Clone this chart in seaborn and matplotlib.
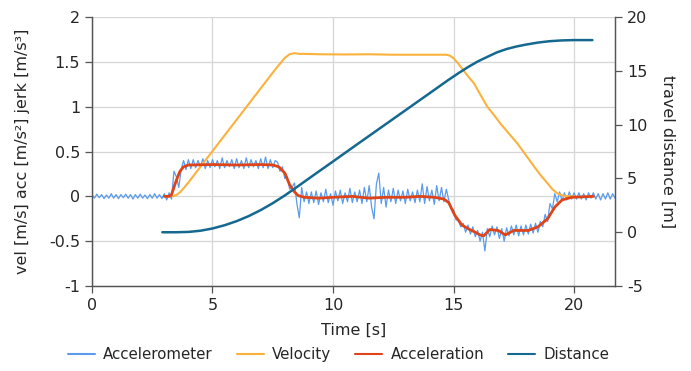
import numpy as np
import pandas as pd
import seaborn as sns
import matplotlib.pyplot as plt
from matplotlib.ticker import FuncFormatter
from matplotlib.lines import Line2D

# accelerometer samples, every 0.1 s from 0.0 to 21.7
accel_raw = [0.02, -0.02, 0.025, -0.015, 0.02, -0.025, 0.015, -0.02, 0.03, -0.02,
             0.02, -0.025, 0.02, -0.015, 0.025, -0.02, 0.02, -0.03, 0.02, -0.02,
             0.025, -0.02, 0.015, -0.025, 0.02, -0.02, 0.03, -0.02, 0.02, -0.025,
             0.03, -0.04, 0.04, -0.03,
             0.28, 0.22, 0.10, 0.30, 0.40, 0.30, 0.41,
             0.31, 0.41, 0.32, 0.40, 0.33, 0.42, 0.31, 0.40, 0.32, 0.41,
             0.33, 0.40, 0.31, 0.43, 0.32, 0.40, 0.33, 0.41, 0.31, 0.42,
             0.32, 0.40, 0.31, 0.43, 0.32, 0.41, 0.33, 0.40, 0.31, 0.42,
             0.32, 0.44, 0.31, 0.41, 0.32, 0.40,
             0.38, 0.28, 0.33, 0.20, 0.22, 0.08, 0.10, 0.15, -0.08, -0.24,
             0.10, -0.06, 0.05, -0.08,
             0.05, -0.07, 0.06, -0.09, 0.04, -0.06, 0.08, -0.07, 0.03, -0.10,
             0.06, -0.05, 0.07, -0.08, 0.04, -0.06, 0.09, -0.07, 0.05,
             -0.06, 0.07, -0.08, 0.10, -0.06, 0.12, -0.12, -0.25, 0.14, 0.26,
             -0.08, 0.10, -0.12, 0.07, -0.06, 0.09, -0.08, 0.07, -0.05, 0.06,
             -0.08, 0.08, -0.05, 0.05, -0.07, 0.07, -0.06, 0.14, -0.08, 0.11,
             -0.05, 0.07, -0.09, 0.12, -0.05, 0.10, -0.06, 0.08,
             -0.04, -0.14, -0.15, -0.26, -0.27, -0.34, -0.30, -0.40, -0.32, -0.42,
             -0.34, -0.45, -0.38, -0.50, -0.40, -0.61, -0.36, -0.45, -0.33, -0.43,
             -0.34, -0.47, -0.36, -0.50, -0.35, -0.44, -0.33, -0.43, -0.32, -0.44,
             -0.33, -0.43, -0.32, -0.42, -0.31, -0.41, -0.30, -0.40, -0.28, -0.34,
             -0.20, -0.28, -0.08, -0.14, 0.03, -0.06, 0.05, -0.05, 0.04, -0.04,
             0.05, -0.03, 0.04,
             -0.03, 0.04, -0.03, 0.03, -0.04, 0.04, -0.02, 0.04, -0.03, 0.03,
             -0.04, 0.03, -0.03, 0.04, -0.03, 0.03, -0.02]
accel_t = np.round(np.arange(len(accel_raw)) * 0.1, 1)

vel_t = [3.35, 3.5, 3.65, 3.8, 4.0, 4.5, 5.0, 5.5, 6.0, 6.5, 7.0, 7.5, 7.8, 8.0,
         8.2, 8.4, 8.6, 9.0, 9.5, 10.5, 11.5, 12.5, 13.5, 14.5, 14.7, 14.85, 15.0,
         15.2, 15.4, 15.6, 15.85, 16.1, 16.4, 16.7, 16.95, 17.3, 17.65, 18.0,
         18.35, 18.6, 18.9, 19.1, 19.3, 19.5, 19.7, 20.0]
vel_v = [0.0, 0.015, 0.045, 0.09, 0.155, 0.33, 0.505, 0.68, 0.855, 1.03, 1.205,
         1.38, 1.48, 1.545, 1.585, 1.597, 1.59, 1.588, 1.585, 1.583, 1.585, 1.58,
         1.58, 1.58, 1.58, 1.57, 1.54, 1.48, 1.41, 1.34, 1.26, 1.14, 1.0, 0.9,
         0.81, 0.7, 0.59, 0.46, 0.33, 0.24, 0.145, 0.08, 0.035, 0.012, 0.003, 0.0]

acc_t = [3.0, 3.2, 3.3, 3.5, 3.65, 3.8, 4.0, 5.0, 6.0, 7.0, 7.5, 7.75, 8.0, 8.2,
         8.4, 8.55, 8.8, 9.4, 10.0, 10.8, 11.5, 12.2, 13.0, 13.6, 14.2, 14.6, 14.8,
         15.05, 15.35, 15.6, 15.9, 16.1, 16.25, 16.5, 16.85, 17.15, 17.5, 18.1,
         18.5, 18.9, 19.2, 19.5, 19.9, 20.8]
acc_v = [0.0, 0.0, 0.02, 0.18, 0.28, 0.33, 0.35, 0.355, 0.35, 0.355, 0.35, 0.33,
         0.26, 0.13, 0.05, 0.01, -0.01, -0.02, -0.01, 0.0, -0.02, -0.01, -0.01, 0.0,
         -0.01, -0.03, -0.07, -0.21, -0.32, -0.36, -0.40, -0.43, -0.44, -0.37,
         -0.38, -0.43, -0.38, -0.38, -0.34, -0.25, -0.12, -0.04, -0.01, 0.0]

dist_t = [2.92, 3.5, 4.0, 4.5, 5.0, 5.5, 6.0, 6.5, 7.0, 7.5, 8.0, 8.5, 9.0, 10.0,
          11.0, 12.0, 13.0, 14.0, 14.75, 15.2, 15.6, 16.0, 16.4, 16.8, 17.2, 17.6,
          18.0, 18.5, 19.0, 19.5, 20.0, 20.76]
dist_v = [0.0, 0.0, 0.03, 0.14, 0.35, 0.65, 1.03, 1.5, 2.06, 2.7, 3.42, 4.2, 5.0,
          6.58, 8.17, 9.75, 11.33, 12.91, 14.1, 14.78, 15.35, 15.87, 16.3, 16.72,
          17.03, 17.26, 17.44, 17.63, 17.76, 17.83, 17.86, 17.86]

c_raw = "#5a9bf0"
c_vel = "#fab23c"
c_acc = "#df4418"
c_dist = "#15688f"

sns.set_style("white")
plt.rcParams['font.family'] = ['DejaVu Sans']
plt.rcParams['axes.unicode_minus'] = False

fig = plt.figure(figsize=(6.91, 3.71), dpi=100)
ax = fig.add_axes([0.1331, 0.229, 0.757, 0.725])

sns.lineplot(x=accel_t, y=accel_raw, ax=ax, color=c_raw, linewidth=0.9)
sns.lineplot(x=vel_t, y=vel_v, ax=ax, color=c_vel, linewidth=1.5)
sns.lineplot(x=acc_t, y=acc_v, ax=ax, color=c_acc, linewidth=2.0)

ax2 = ax.twinx()
sns.lineplot(x=dist_t, y=dist_v, ax=ax2, color=c_dist, linewidth=1.8)

ax.set_xlim(0, 21.7)
ax.set_ylim(-1, 2)
ax2.set_ylim(-5, 20)
ax.set_xticks([0, 5, 10, 15, 20])
ax.set_yticks([-1, -0.5, 0, 0.5, 1, 1.5, 2])
ax2.set_yticks([-5, 0, 5, 10, 15, 20])
fmt = FuncFormatter(lambda v, p: "{:g}".format(v))
ax.yaxis.set_major_formatter(fmt)
ax2.yaxis.set_major_formatter(fmt)

ax.grid(True, color="#d6d6d6", linewidth=0.9)
ax.set_axisbelow(True)
for a in (ax, ax2):
    a.spines['top'].set_visible(False)
    for s in ('left', 'right', 'bottom'):
        a.spines[s].set_color("#555555")
        a.spines[s].set_linewidth(0.9)
ax.tick_params(axis='both', direction='out', length=5, width=0.9, color="#555555",
               labelsize=11.5, left=True, bottom=True)
ax2.tick_params(axis='y', direction='out', length=5, width=0.9, color="#555555",
                labelsize=11.5, right=True)

ax.set_xlabel("Time [s]", fontsize=11.5, labelpad=7)
ax.set_ylabel("vel [m/s] acc [m/s²] jerk [m/s³]", fontsize=11.5, labelpad=14)
ax2.set_ylabel("travel distance [m]", fontsize=11.5, rotation=270, labelpad=20)

handles = [Line2D([], [], color=c_raw, linewidth=1.5),
           Line2D([], [], color=c_vel, linewidth=1.5),
           Line2D([], [], color=c_acc, linewidth=1.5),
           Line2D([], [], color=c_dist, linewidth=1.5)]
labels = ["Accelerometer", "Velocity", "Acceleration", "Distance"]
fig.legend(handles, labels, loc='lower center', bbox_to_anchor=(0.49, -0.012),
           ncol=4, frameon=False, fontsize=10.8, handlelength=1.8,
           handletextpad=0.55, columnspacing=1.6)

fig.savefig("out.png", dpi=100)
